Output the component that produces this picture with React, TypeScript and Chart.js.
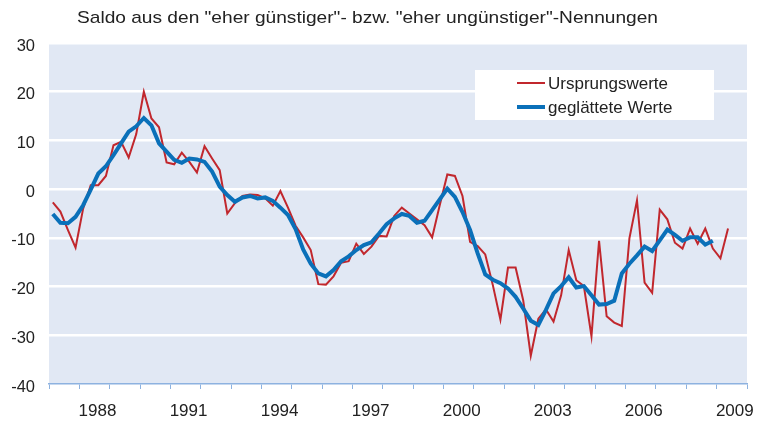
import React, { useEffect, useRef } from 'react';
import { Chart, registerables } from 'chart.js';

Chart.register(...registerables);

// ---- data ----
const START_YEAR = 1987; // first quarter of the series: 1987 Q1
const X_MIN = 1987;
const X_MAX = 2010;
const yearLabels = [1988, 1991, 1994, 1997, 2000, 2003, 2006, 2009];
const Y_MIN = -40;
const Y_MAX = 30;
const Y_STEP = 10;

const TITLE = 'Saldo aus den "eher günstiger"- bzw. "eher ungünstiger"-Nennungen';
const seriesNames = ['Ursprungswerte', 'geglättete Werte'];

// quarterly original values (1987 Q1 ... 2009 Q2)
const ursprungswerte = [
  -2.7, -4.6, -8.4, -12.0, -4.0, 0.8, 0.8, 2.7, 9.0, 9.7,
  6.5, 11.3, 20.0, 14.5, 12.7, 5.5, 5.1, 7.5, 5.6, 3.4,
  8.8, 6.3, 3.9, -5.0, -2.9, -1.4, -1.1, -1.2, -1.9, -3.4,
  -0.4, -3.8, -7.5, -9.9, -12.5, -19.5, -19.6, -17.9, -15.1, -14.8,
  -11.2, -13.3, -11.8, -9.6, -9.7, -5.5, -3.8, -5.0, -6.2, -7.4,
  -9.9, -3.3, 3.0, 2.7, -1.4, -10.8, -11.7, -13.4, -19.7, -26.8,
  -16.1, -16.1, -22.8, -34.2, -26.6, -24.7, -27.2, -21.8, -12.5, -18.7,
  -19.9, -30.2, -10.6, -26.1, -27.4, -28.1, -10.1, -2.3, -19.2, -21.3,
  -4.2, -6.2, -11.0, -12.2, -8.1, -11.2, -8.1, -12.2, -14.2, -8.1,
];

// quarterly smoothed values (1987 Q1 ... 2008 Q4)
const geglaettet = [
  -5.1, -6.9, -7.0, -5.7, -3.3, -0.1, 3.2, 4.7, 7.0, 9.4,
  11.8, 12.9, 14.6, 13.1, 9.4, 7.7, 6.0, 5.4, 6.3, 6.1,
  5.6, 3.6, 0.5, -1.2, -2.6, -1.7, -1.4, -1.9, -1.7, -2.4,
  -3.8, -5.3, -8.2, -12.4, -15.3, -17.3, -17.9, -16.6, -14.8, -13.8,
  -12.5, -11.5, -10.9, -9.1, -7.2, -6.0, -5.1, -5.5, -6.9, -6.5,
  -4.3, -2.1, 0.1, -1.6, -4.7, -8.4, -13.2, -17.5, -18.6, -19.3,
  -20.4, -22.1, -24.5, -27.0, -27.9, -24.8, -21.4, -19.9, -18.1, -20.2,
  -19.9, -21.8, -23.7, -23.6, -22.9, -17.3, -15.3, -13.6, -11.8, -12.7,
  -10.5, -8.3, -9.4, -10.6, -9.9, -9.9, -11.4, -10.6,
];

// ---- styles ----
const RED = '#c1272d';
const BLUE = '#0a70b9';
const PLOT_BG = '#e1e8f4';
const AXIS_COLOR = '#8db2e0';
const TEXT_COLOR = '#222222';
const FONT_FAMILY = '"Liberation Sans", Arial, Helvetica, sans-serif';

const toPoints = (values: number[]) =>
  values.map((v, i) => ({ x: START_YEAR + (i + 0.5) / 4, y: v }));

const backgroundPlugin = {
  id: 'plotBackground',
  beforeDraw(chart: any) {
    const { ctx, chartArea } = chart;
    ctx.save();
    ctx.fillStyle = PLOT_BG;
    ctx.fillRect(chartArea.left, chartArea.top, chartArea.right - chartArea.left, chartArea.bottom - chartArea.top);
    ctx.restore();
  },
};

const overlayPlugin = {
  id: 'overlay',
  afterDraw(chart: any) {
    const { ctx, chartArea } = chart;
    ctx.save();
    // title (slightly widened to match the reference's wide lettering)
    ctx.fillStyle = TEXT_COLOR;
    ctx.font = `17px ${FONT_FAMILY}`;
    ctx.textAlign = 'left';
    ctx.textBaseline = 'alphabetic';
    const tx = chartArea.left + 28;
    const targetWidth = 581;
    const measured = ctx.measureText(TITLE).width;
    const sx = measured > 0 ? targetWidth / measured : 1;
    ctx.save();
    ctx.translate(tx, 23);
    ctx.scale(sx, 1);
    ctx.fillText(TITLE, 0, 0);
    ctx.restore();

    // legend box
    const bx = chartArea.left + 426;
    const by = chartArea.top + 27;
    const bw = 239;
    const bh = 50;
    ctx.fillStyle = '#ffffff';
    ctx.fillRect(bx, by, bw, bh);
    const items = [
      { label: seriesNames[0], color: RED, width: 2, y: by + 13 },
      { label: seriesNames[1], color: BLUE, width: 4, y: by + 37 },
    ];
    items.forEach((it) => {
      ctx.strokeStyle = it.color;
      ctx.lineWidth = it.width;
      ctx.beginPath();
      ctx.moveTo(bx + 42, it.y);
      ctx.lineTo(bx + 70, it.y);
      ctx.stroke();
      ctx.fillStyle = TEXT_COLOR;
      ctx.font = `17px ${FONT_FAMILY}`;
      ctx.textBaseline = 'middle';
      ctx.fillText(it.label, bx + 73, it.y + 1);
    });
    ctx.restore();
  },
};

export default function App() {
  const canvasRef = useRef<HTMLCanvasElement | null>(null);

  useEffect(() => {
    document.body.style.margin = '0';
    const canvas = canvasRef.current;
    if (!canvas) return;
    const chart = new Chart(canvas, {
      type: 'line',
      data: {
        datasets: [
          {
            label: seriesNames[0],
            data: toPoints(ursprungswerte),
            borderColor: RED,
            borderWidth: 2,
            pointRadius: 0,
            tension: 0,
            fill: false,
            order: 2,
          },
          {
            label: seriesNames[1],
            data: toPoints(geglaettet),
            borderColor: BLUE,
            borderWidth: 4,
            pointRadius: 0,
            tension: 0,
            fill: false,
            order: 1,
          },
        ],
      },
      options: {
        responsive: false,
        animation: false,
        devicePixelRatio: 1,
        layout: { padding: { top: 43, right: 15, left: 0, bottom: 0 } },
        plugins: {
          legend: { display: false },
          title: { display: false },
          tooltip: { enabled: false },
        },
        scales: {
          x: {
            type: 'linear',
            min: X_MIN,
            max: X_MAX,
            afterFit(scale: any) {
              scale.height = 37;
            },
            ticks: {
              stepSize: 0.5,
              autoSkip: false,
              maxRotation: 0,
              minRotation: 0,
              padding: 12,
              labelOffset: 3,
              color: TEXT_COLOR,
              font: { family: FONT_FAMILY, size: 17 },
              callback(value: any) {
                const yr = Number(value) - 0.5;
                return Number.isInteger(yr) && yearLabels.includes(yr) ? String(yr) : '';
              },
            },
            grid: {
              drawOnChartArea: false,
              drawTicks: true,
              tickLength: 5,
              lineWidth: 1,
              color: (ctx: any) =>
                ctx.tick && Number.isInteger(ctx.tick.value) ? AXIS_COLOR : 'rgba(0,0,0,0)',
            },
            border: { display: true, color: AXIS_COLOR, width: 1.5 },
          },
          y: {
            type: 'linear',
            min: Y_MIN,
            max: Y_MAX,
            afterFit(scale: any) {
              scale.width = 49;
            },
            ticks: {
              stepSize: Y_STEP,
              padding: 14,
              labelOffset: 3,
              color: TEXT_COLOR,
              font: { family: FONT_FAMILY, size: 16.5 },
            },
            grid: {
              drawTicks: false,
              lineWidth: 2.5,
              color: (ctx: any) =>
                ctx.tick && ctx.tick.value === Y_MIN ? 'rgba(0,0,0,0)' : '#ffffff',
            },
            border: { display: false },
          },
        },
      },
      plugins: [backgroundPlugin, overlayPlugin],
    } as any);
    return () => chart.destroy();
  }, []);

  return (
    <div style={{ position: 'absolute', left: 0, top: 0, width: 762, height: 421 }}>
      <canvas ref={canvasRef} width={762} height={421} />
    </div>
  );
}
